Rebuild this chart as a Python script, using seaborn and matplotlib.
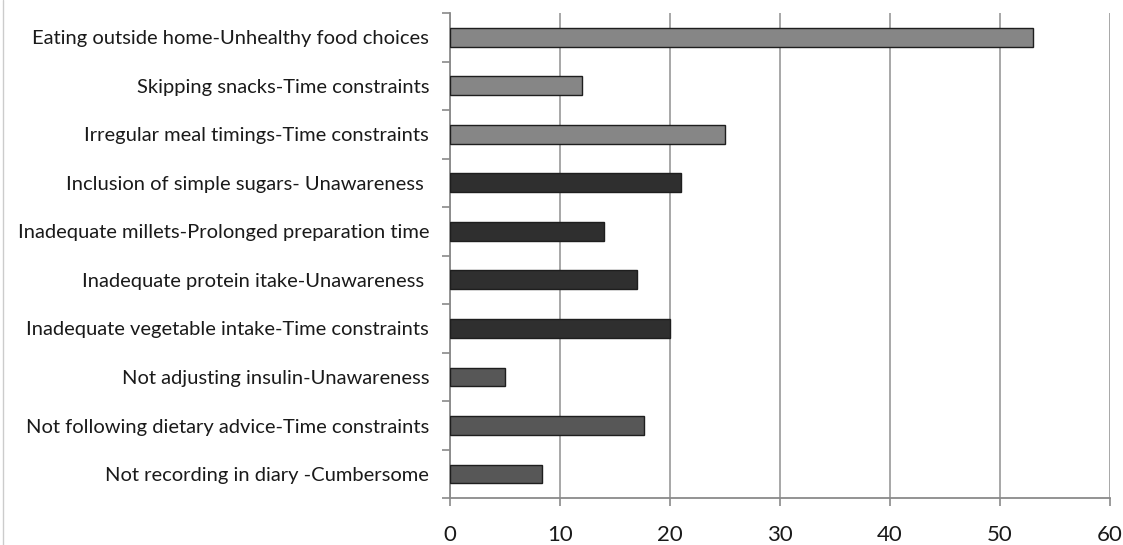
import matplotlib
matplotlib.use("Agg")
import matplotlib.pyplot as plt
from matplotlib.ticker import FixedLocator
import seaborn as sns
import pandas as pd

categories = [
    "Eating outside home-Unhealthy food choices",
    "Skipping snacks-Time constraints",
    "Irregular meal timings-Time constraints",
    "Inclusion of simple sugars- Unawareness ",
    "Inadequate millets-Prolonged preparation time",
    "Inadequate protein itake-Unawareness ",
    "Inadequate vegetable intake-Time constraints",
    "Not adjusting insulin-Unawareness",
    "Not following dietary advice-Time constraints",
    "Not recording in diary -Cumbersome",
]
values = [53, 12, 25, 21, 14, 17, 20, 5, 17.6, 8.4]
bar_colors = ["#868686"] * 3 + ["#2f2f2f"] * 4 + ["#575757"] * 3
x_ticks = [0, 10, 20, 30, 40, 50, 60]

sns.set_theme(style="white")
plt.rcParams["font.family"] = ["Lato", "DejaVu Sans"]

df = pd.DataFrame({"cat": categories, "val": values})

fig = plt.figure(figsize=(11.23, 5.45), dpi=100)
ax = fig.add_axes([0.4007, 0.0857, 0.5877, 0.8903])

sns.barplot(data=df, x="val", y="cat", hue="cat", palette=bar_colors,
            order=categories, hue_order=categories, legend=False,
            orient="h", width=0.39, edgecolor="#1e1e1e", linewidth=1.0,
            ax=ax, zorder=3)

ax.set_xlim(0, 60)
ax.set_ylim(len(categories) - 0.5, -0.5)
ax.set_xticks(x_ticks)
ax.set_xticklabels([str(t) for t in x_ticks], fontsize=16, color="#1a1a1a")
ax.set_xlabel("")
ax.set_ylabel("")
ax.tick_params(axis="y", which="major", length=0, pad=15, labelsize=14.5,
               labelcolor="#1a1a1a")
ax.yaxis.set_minor_locator(FixedLocator([i - 0.5 for i in range(len(categories) + 1)]))
ax.tick_params(axis="y", which="minor", left=True, length=6, width=1.2, color="#8a8a8a")
ax.tick_params(axis="x", which="major", bottom=True, length=6, width=1.2,
               color="#8a8a8a", pad=13)

ax.grid(axis="x", color="#a0a0a0", linewidth=1.3, zorder=0)
ax.grid(axis="y", visible=False)
ax.set_axisbelow(True)

for side in ["top", "right"]:
    ax.spines[side].set_visible(False)
for side in ["left", "bottom"]:
    ax.spines[side].set_color("#8a8a8a")
    ax.spines[side].set_linewidth(1.3)

# thin outer frame line on the left edge
fig.add_artist(plt.Line2D([0.003, 0.003], [0.0, 1.0], color="#cccccc", linewidth=1.0))

fig.savefig("out.png", dpi=100)
